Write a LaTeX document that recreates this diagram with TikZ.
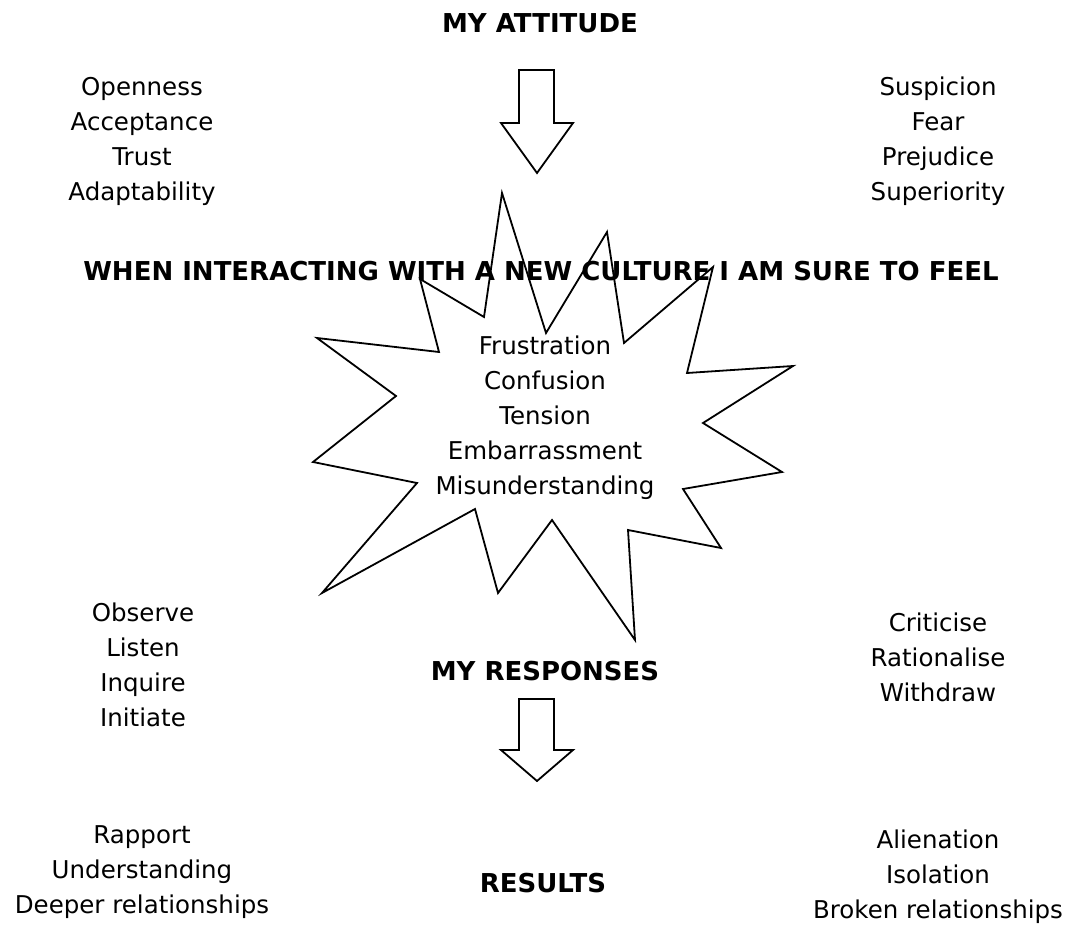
\documentclass[tikz,border=0pt]{standalone}
\usepackage{fontspec}
\setmainfont{DejaVu Sans}
\begin{document}
\begin{tikzpicture}[x=1pt,y=-1pt]
  \tikzset{
    words/.style={align=center, inner sep=0pt, font=\fontsize{24.5}{35}\selectfont},
    heading/.style={inner sep=0pt, font=\bfseries\fontsize{26}{35}\selectfont},
    outline/.style={line width=1.8pt, line join=miter}
  }
  \useasboundingbox (0,0) rectangle (1075,928);

  % headings down the middle
  \node [heading] (attitude) at (540,23) {MY ATTITUDE};
  \node [heading] (feel) at (541,271) {WHEN INTERACTING WITH A NEW CULTURE I AM SURE TO FEEL};
  \node [heading] (responses) at (545,671) {MY RESPONSES};
  \node [heading] (results) at (543,883) {RESULTS};

  % block arrows
  \draw[outline] (519,70) -- (554,70) -- (554,123) -- (573,123) -- (537,173)
    -- (501,123) -- (519,123) -- cycle;
  \draw[outline] (519,699) -- (554,699) -- (554,750) -- (573,750) -- (537,781)
    -- (501,750) -- (519,750) -- cycle;

  % the burst
  \draw[outline] (502,193) -- (546,333) -- (607,232) -- (624,343) -- (713,267)
    -- (687,373) -- (793,366) -- (703,423) -- (782,472) -- (683,489)
    -- (721,548) -- (628,530) -- (635,640) -- (552,520) -- (498,593)
    -- (475,509) -- (322,593) -- (417,483) -- (313,462) -- (396,396)
    -- (317,338) -- (439,352) -- (420,279) -- (484,317) -- cycle;

  \node [words] (feelings) at (545,418)
    {Frustration\\Confusion\\Tension\\Embarrassment\\Misunderstanding};

  % attitudes
  \node [words] (open) at (142,141) {Openness\\Acceptance\\Trust\\Adaptability};
  \node [words] (closed) at (938,141) {Suspicion\\Fear\\Prejudice\\Superiority};

  % responses
  \node [words] (good) at (143,665) {Observe\\Listen\\Inquire\\Initiate};
  \node [words] (bad) at (938,657) {Criticise\\Rationalise\\Withdraw};

  % results
  \node [words] (gain) at (142,872) {Rapport\\Understanding\\Deeper relationships};
  \node [words] (loss) at (938,877) {Alienation\\Isolation\\Broken relationships};

\end{tikzpicture}
\end{document}
